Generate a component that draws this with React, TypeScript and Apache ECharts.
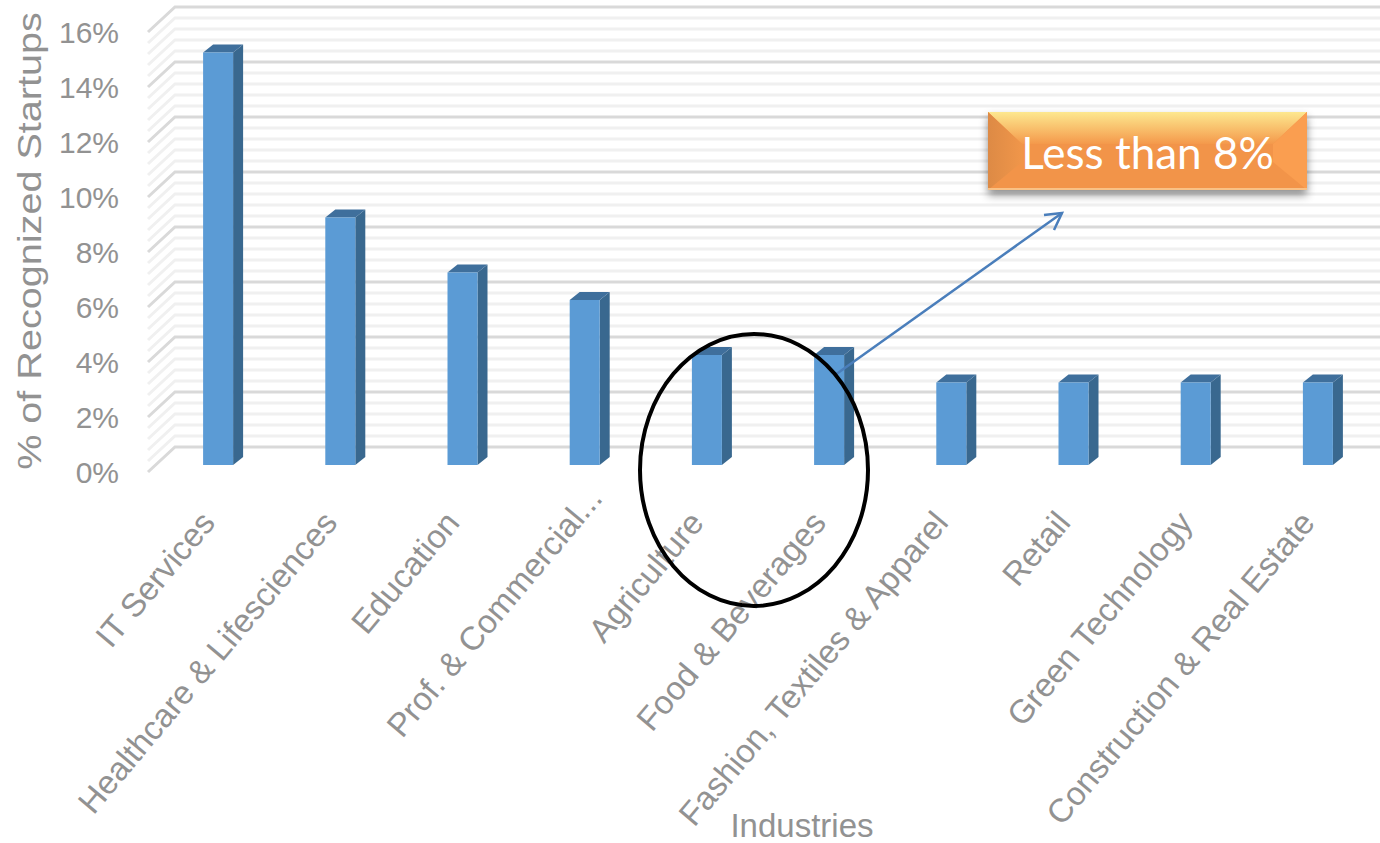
import React, { useEffect, useRef } from "react";
import * as echarts from "echarts";

const categories = ["IT Services", "Healthcare & Lifesciences", "Education", "Prof. & Commercial...", "Agriculture", "Food & Beverages", "Fashion, Textiles & Apparel", "Retail", "Green Technology", "Construction & Real Estate"];
const shares = [15, 9, 7, 6, 4, 4, 3, 3, 3, 3];
const majorTicks = [0, 2, 4, 6, 8, 10, 12, 14, 16];
const minorTicks = [0.4, 0.8, 1.2, 1.6, 2.4, 2.8, 3.2, 3.6, 4.4, 4.8, 5.2, 5.6, 6.4, 6.8, 7.2, 7.6, 8.4, 8.8, 9.2, 9.6, 10.4, 10.8, 11.2, 11.6, 12.4, 12.8, 13.2, 13.6, 14.4, 14.8, 15.2, 15.6];

const GRID_LEFT = 157, GRID_TOP = 32, GRID_W = 1222, GRID_H = 440;
const WALL_X0 = 148, WALL_DX = 27, WALL_DY = 25, WALL_RIGHT = 1380;
const BAR_HALF = 15, BAR_LIFT = 7, DEPTH_X = 10, DEPTH_Y = 8;
const GREY = "#929292";

const wallItem = (color: string) => (_p: any, api: any) => {
  const y = api.coord([0, api.value(1)])[1];
  return {
    type: "polyline",
    silent: true,
    shape: { points: [[WALL_X0, y], [WALL_X0 + WALL_DX, y - WALL_DY], [WALL_RIGHT, y - WALL_DY]] },
    style: { fill: "none", stroke: color, lineWidth: 3 },
  };
};

const barItem = (_p: any, api: any) => {
  const [cx, yTop0] = api.coord([api.value(0), api.value(1)]);
  const yBase0 = api.coord([api.value(0), 0])[1];
  const l = cx - BAR_HALF, r = cx + BAR_HALF;
  const t = yTop0 - BAR_LIFT, b = yBase0 - BAR_LIFT;
  return {
    type: "group",
    children: [
      { type: "polygon", shape: { points: [[r, t], [r + DEPTH_X, t - DEPTH_Y], [r + DEPTH_X, b - DEPTH_Y], [r, b]] }, style: { fill: "#39688f" } },
      { type: "polygon", shape: { points: [[l, t], [l + DEPTH_X, t - DEPTH_Y], [r + DEPTH_X, t - DEPTH_Y], [r, t]] }, style: { fill: "#3f6f9c" } },
      { type: "rect", shape: { x: l, y: t, width: r - l, height: b - t }, style: { fill: "#5b9bd5" } },
    ],
  };
};

const BX0 = 988, BY0 = 112, BX1 = 1307, BY1 = 190, BEV = 34;
const grad = (x2: number, y2: number, a: string, b: string) =>
  new echarts.graphic.LinearGradient(0, 0, x2, y2, [{ offset: 0, color: a }, { offset: 1, color: b }]);

export default function App() {
  const ref = useRef<HTMLDivElement>(null);
  useEffect(() => {
    document.body.style.margin = "0";
    const chart = echarts.init(ref.current!, null, { renderer: "svg" });
    chart.setOption({
      animation: false,
      backgroundColor: "#ffffff",
      grid: { left: GRID_LEFT, top: GRID_TOP, width: GRID_W, height: GRID_H, outerBoundsMode: "none" },
      xAxis: {
        type: "category",
        data: categories.map((c) => (c.endsWith("...") ? { value: c, textStyle: { padding: [0, -16, 0, 0] } } : c)),
        axisLine: { show: false },
        axisTick: { show: false },
        splitLine: { show: false },
        axisLabel: { interval: 0, rotate: 50, margin: 32, fontSize: 33, color: GREY, fontFamily: "Liberation Sans", padding: [0, 16, 0, 0] },
      },
      yAxis: {
        type: "value",
        min: 0,
        max: 16,
        interval: 2,
        offset: 27,
        axisLine: { show: false },
        axisTick: { show: false },
        splitLine: { show: false },
        axisLabel: { margin: 11, fontSize: 30, color: GREY, fontFamily: "Liberation Sans", formatter: "{value}%" },
      },
      series: [
        { type: "custom", clip: false, z: 1, silent: true, renderItem: wallItem("#f0f0f0"), data: minorTicks.map((v) => [0, v]), encode: { x: 0, y: 1 } },
        { type: "custom", clip: false, z: 2, silent: true, renderItem: wallItem("#d9d9d9"), data: majorTicks.map((v) => [0, v]), encode: { x: 0, y: 1 } },
        { type: "custom", clip: false, z: 3, renderItem: barItem, data: shares.map((v, i) => [i, v]), encode: { x: 0, y: 1 } },
      ],
      graphic: [
        { type: "text", z: 9, x: 30, y: 241, rotation: Math.PI / 2, scaleX: 1.2, style: { x: 0, y: 0, text: "% of Recognized Startups", fill: GREY, fontSize: 33, fontFamily: "Liberation Sans", align: "center", verticalAlign: "middle" } },
        { type: "text", z: 9, style: { x: 802, y: 825, text: "Industries", fill: GREY, fontSize: 33, fontFamily: "Liberation Sans", align: "center", verticalAlign: "middle" } },
        { type: "rect", z: 10, shape: { x: BX0, y: BY0, width: BX1 - BX0, height: BY1 - BY0 }, style: { fill: "#f2944a", shadowBlur: 8, shadowOffsetY: 5, shadowColor: "rgba(0,0,0,0.45)" } },
        { type: "polygon", z: 11, shape: { points: [[BX0, BY0], [BX1, BY0], [BX1 - BEV, BY0 + 32], [BX0 + BEV, BY0 + 32]] }, style: { fill: grad(0, 1, "#fde88f", "#f4994b") } },
        { type: "polygon", z: 11, shape: { points: [[BX0, BY0], [BX0 + BEV, BY0 + 32], [BX0 + BEV, BY1 - 28], [BX0, BY1]] }, style: { fill: grad(1, 0, "#dd8a45", "#f0964a") } },
        { type: "polygon", z: 11, shape: { points: [[BX1, BY0], [BX1 - BEV, BY0 + 32], [BX1 - BEV, BY1 - 28], [BX1, BY1]] }, style: { fill: "#fa9e50" } },
        { type: "rect", z: 11, shape: { x: BX0, y: BY1 - 2, width: BX1 - BX0, height: 2 }, style: { fill: "#f9c185" } },
        { type: "text", z: 12, style: { x: (BX0 + BX1) / 2, y: 152, text: "Less than 8%", fill: "#ffffff", fontSize: 44, fontFamily: "Lato", align: "center", verticalAlign: "middle" } },
        { type: "line", z: 13, shape: { x1: 835, y1: 375, x2: 1062, y2: 213 }, style: { stroke: "#4a7ebb", lineWidth: 2.5 } },
        { type: "polyline", z: 13, shape: { points: [[1044, 215], [1062, 213], [1054, 230]] }, style: { fill: "none", stroke: "#4a7ebb", lineWidth: 2.5 } },
        { type: "ellipse", z: 14, shape: { cx: 754, cy: 470, rx: 114, ry: 136 }, style: { fill: "none", stroke: "#000000", lineWidth: 4 } },
      ],
    });
    return () => chart.dispose();
  }, []);
  return <div ref={ref} style={{ width: 1380, height: 843 }} />;
}
